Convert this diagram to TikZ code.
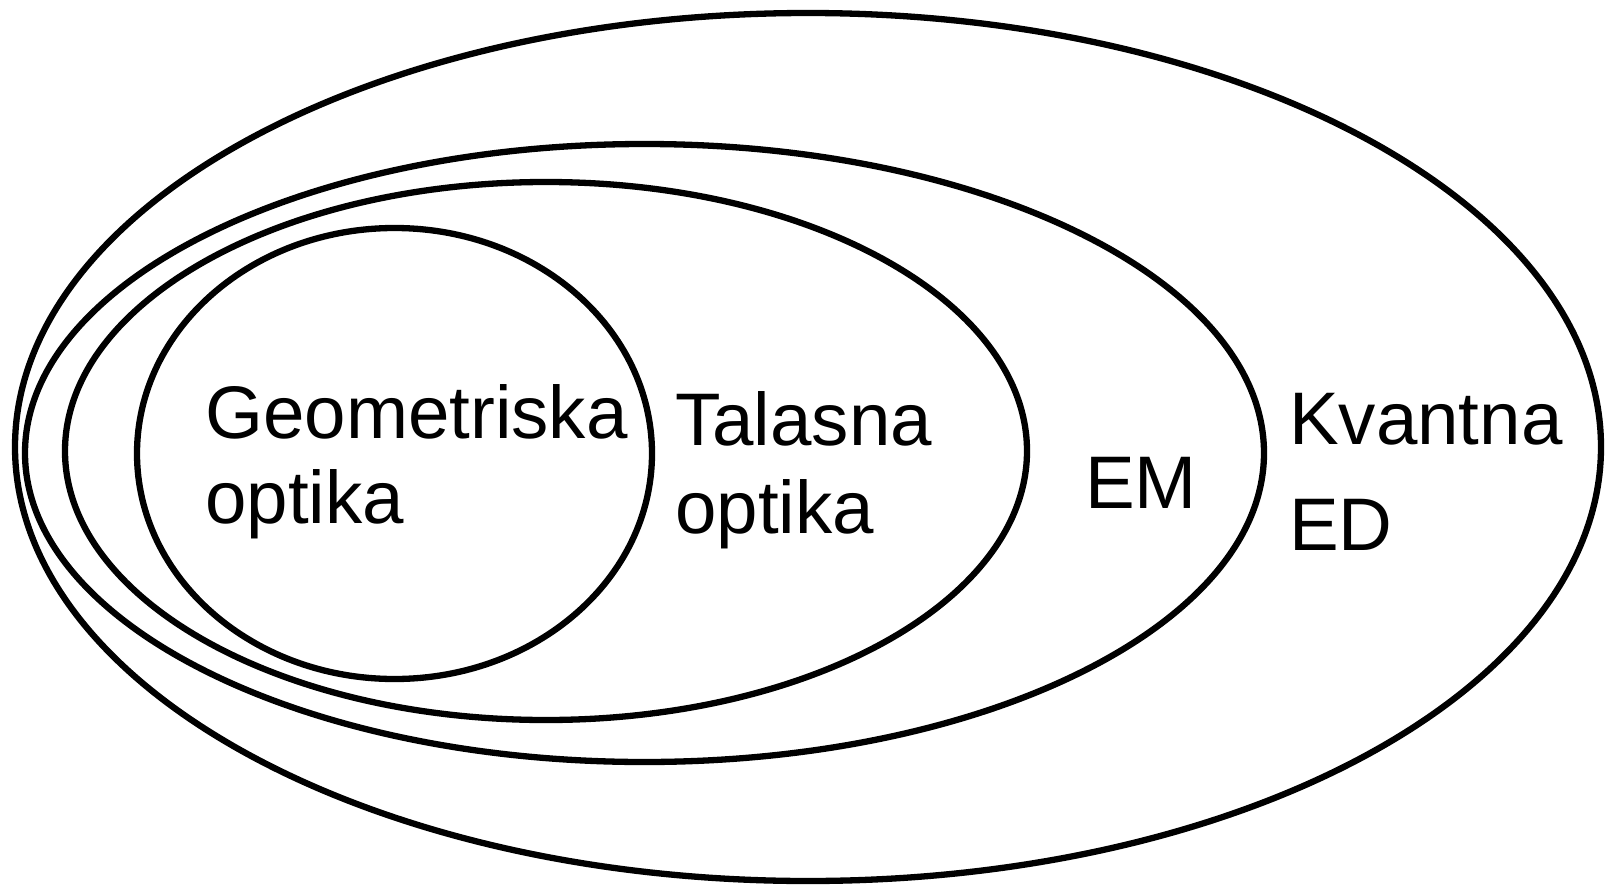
\documentclass[tikz,border=0pt]{standalone}
\usepackage{fontspec}
\setmainfont{Liberation Sans}
\begin{document}
\begin{tikzpicture}[x=1pt,y=-1pt,
  ring/.style={draw=black,line width=6.3pt},
  lbl/.style={anchor=base west,inner sep=0pt,font=\fontsize{74.5}{86}\selectfont}]
\useasboundingbox (0,0) rectangle (1612,886);
% ellipses
\draw[ring] (808,447) ellipse [x radius=793,y radius=434];
\draw[ring] (644.5,453) ellipse [x radius=619.5,y radius=309];
\draw[ring] (546,451) ellipse [x radius=481,y radius=269];
\draw[ring] (394.5,453.5) ellipse [x radius=257.5,y radius=225.5];
% labels
\node[lbl] (geo1) at (205,438) {Geometriska};
\node[lbl] (geo2) at (205,523) {optika};
\node[lbl] (tal1) at (675,445) {Talasna};
\node[lbl] (tal2) at (675,533) {optika};
\node[lbl] (em) at (1085,508) {EM};
\node[lbl] (kv1) at (1289,444) {Kvantna};
\node[lbl] (kv2) at (1289,550) {ED};
\end{tikzpicture}
\end{document}
